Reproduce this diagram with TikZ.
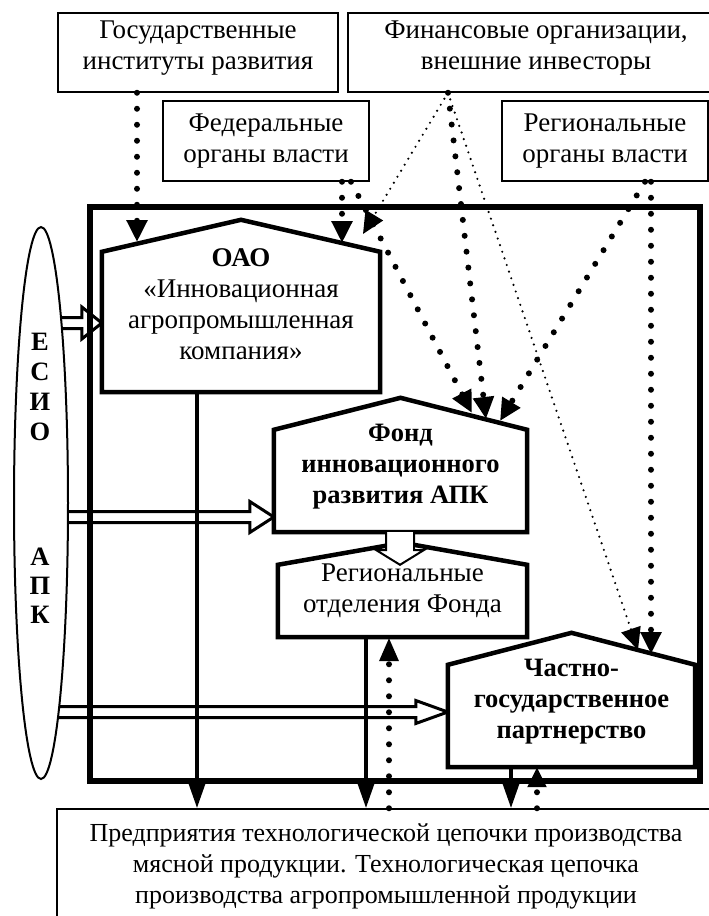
\documentclass[tikz,border=0pt]{standalone}
\usepackage{fontspec}
\setmainfont{Liberation Serif}
\usetikzlibrary{arrows.meta,calc,shapes.geometric,backgrounds}
\newcommand\fsz{\fontsize{27pt}{31pt}\selectfont}
\newcommand\fsm{\fontsize{26pt}{31pt}\selectfont}
\newcommand\fsb{\fontsize{26.5pt}{31pt}\selectfont\bfseries}
% hollow horizontal arrow: #1 start, #2 tip, #3 head length, #4 head half width
\newcommand\hollowarr[4]{%
  \draw[line width=3pt,fill=white,line join=miter]
   ($#1+(0,-5.5)$) -- ($#2+(-#3,-5.5)$) -- ($#2+(-#3,-#4)$) -- #2
   -- ($#2+(-#3,#4)$) -- ($#2+(-#3,5.5)$) -- ($#1+(0,5.5)$);}
\begin{document}
\begin{tikzpicture}[x=1pt,y=-1pt,
  tbox/.style={draw,line width=1.5pt,inner sep=0pt},
  hbody/.style={inner sep=0pt},
  htext/.style={align=center,inner sep=0pt,font=\fsz},
  btext/.style={align=center,inner sep=0pt,font=\fsb},
  hline/.style={line width=4.5pt,line join=miter,fill=white},
  bigdot/.style={line width=6pt,dash pattern=on 0pt off 16pt,line cap=round},
  finedot/.style={line width=2.4pt,dash pattern=on 0pt off 7pt,line cap=round},
  headd/.style={-{Triangle[length=22pt,width=20pt]}},
  solidc/.style={line width=4pt,-{Triangle[length=25pt,width=16pt]}},
  letter/.style={inner sep=0pt,font=\fsb},
]
\useasboundingbox (0,0) rectangle (709,916);

% ---- house bodies (shape anchors) and texts
\node[hbody,minimum width=278pt,minimum height=140pt] (oao) at (241,322) {};
\node[htext] (oaot) at (241,304) {\textbf{ОАО}\\«Инновационная\\агропромышленная\\компания»};
\node[hbody,minimum width=253pt,minimum height=102pt] (fond) at (400.5,481) {};
\node[btext] (fondt) at (400.5,467) {Фонд\\инновационного\\развития АПК};
\node[hbody,minimum width=249pt,minimum height=72pt] (rotd) at (402.5,601) {};
\node[htext] (rotdt) at (402.5,591) {Региональные\\отделения Фонда};
\node[hbody,minimum width=247pt,minimum height=102pt] (chgp) at (571.5,716) {};
\node[btext] (chgpt) at (571.5,702) {Частно-\\государственное\\партнерство};

% ---- ellipse letters
\node[ellipse,minimum width=54pt,minimum height=552pt,inner sep=0pt] (ell) at (41,503) {};
\node[letter] (e1) at (40,342) {Е};
\node[letter] (e2) at (40,372) {С};
\node[letter] (e3) at (40,402) {И};
\node[letter] (e4) at (40,432) {О};
\node[letter] (e5) at (40,557) {А};
\node[letter] (e6) at (40,586) {П};
\node[letter] (e7) at (40,615) {К};

\coordinate (h1a) at (45,323);  \coordinate (h1b) at (oao.west |- h1a);
\coordinate (h2a) at (45,517);  \coordinate (h2b) at (fond.west |- h2a);
\coordinate (h3a) at (45,712);  \coordinate (h3b) at (chgp.west |- h3a);

\begin{scope}[on background layer]
  \hollowarr{(h1a)}{(h1b)}{20}{16}
  \hollowarr{(h2a)}{(h2b)}{24}{15.5}
  \hollowarr{(h3a)}{(h3b)}{32}{11.5}
  \draw[line width=2pt,fill=white] (ell.center) ellipse [x radius=27, y radius=276];
  \node[draw,line width=6pt,minimum width=610pt,minimum height=574pt,inner sep=0pt] (frame) at (395,494) {};
  \draw[hline] (oao.south west) -- (oao.north west) -- ($(oao.north)+(0,-32)$) -- (oao.north east) -- (oao.south east) -- cycle;
  \draw[hline] (fond.south west) -- (fond.north west) -- ($(fond.north)+(0,-32)$) -- (fond.north east) -- (fond.south east) -- cycle;
  \draw[hline] (rotd.south west) -- (rotd.north west) -- ($(rotd.north)+(0,-22)$) -- (rotd.north east) -- (rotd.south east) -- cycle;
  \draw[hline] (chgp.south west) -- (chgp.north west) -- ($(chgp.north)+(0,-32)$) -- (chgp.north east) -- (chgp.south east) -- cycle;
\end{scope}

% hollow arrow Fond -> regional branches
\draw[line width=2pt,fill=white,line join=miter]
  (fond.south -| 386,0) -- (386,550) -- (376,550) -- (rotd.north -| 400,0) -- (424,550) -- (414,550) -- (fond.south -| 414,0);

% ---- top boxes
\node[tbox,minimum width=280pt,minimum height=79pt] (gos) at (198,52.5) {};
\node[htext] (gost) at (198,48) {Государственные\\институты развития};
\node[tbox,minimum width=376pt,minimum height=79pt] (fin) at (536,52.5) {};
\node[htext] (fint) at (536,48) {Финансовые организации,\\внешние инвесторы};
\node[tbox,minimum width=206pt,minimum height=80pt] (fed) at (266,141) {};
\node[htext] (fedt) at (266,141) {Федеральные\\органы власти};
\node[tbox,minimum width=206pt,minimum height=80pt] (reg) at (605,141) {};
\node[htext] (regt) at (605,141) {Региональные\\органы власти};

% ---- bottom box
\node[tbox,minimum width=658pt,minimum height=116pt] (bot) at (386,867) {};
\node[htext,font=\fsm] (bott) at (386,866) {Предприятия технологической цепочки производства\\мясной продукции. Технологическая цепочка\\производства агропромышленной продукции};

% ---- roof targets
\coordinate (r1) at (137,242);
\coordinate (r2) at (342,243);
\coordinate (r3) at (472,413);
\coordinate (r4) at (363,234);
\coordinate (r5) at (486,419);
\coordinate (r6) at (638,650);
\coordinate (r7) at (500,421);
\coordinate (r8) at (651,654);

% ---- dotted connectors
\draw[bigdot,headd] (gos.south -| r1) -- (r1);
\draw[bigdot,headd] (fed.south -| r2) -- (r2);
\draw[bigdot,headd] (fed.south -| 351,0) -- (r3);
\draw[finedot,headd] (fin.south -| 448,0) -- (r4);
\draw[bigdot,headd] (fin.south -| 448,0) -- (r5);
\draw[finedot,headd] (fin.south -| 448,0) -- (r6);
\draw[bigdot,headd] (reg.south -| 645,0) -- (r7);
\draw[bigdot,headd] (reg.south -| 651,0) -- (r8);

% ---- solid connectors to enterprises
\draw[solidc] (oao.south -| 197,0) -- (bot.north -| 197,0);
\draw[solidc] (rotd.south -| 366,0) -- (bot.north -| 366,0);
\draw[solidc] (chgp.south -| 511,0) -- (bot.north -| 511,0);

% ---- dotted feedback
\draw[bigdot,-{Triangle[length=24pt,width=18pt]}] (bot.north -| 389,0) -- (rotd.south -| 389,0);
\draw[bigdot,-{Triangle[length=20pt,width=18pt]}] (bot.north -| 537,0) -- (chgp.south -| 537,0);
\end{tikzpicture}
\end{document}
